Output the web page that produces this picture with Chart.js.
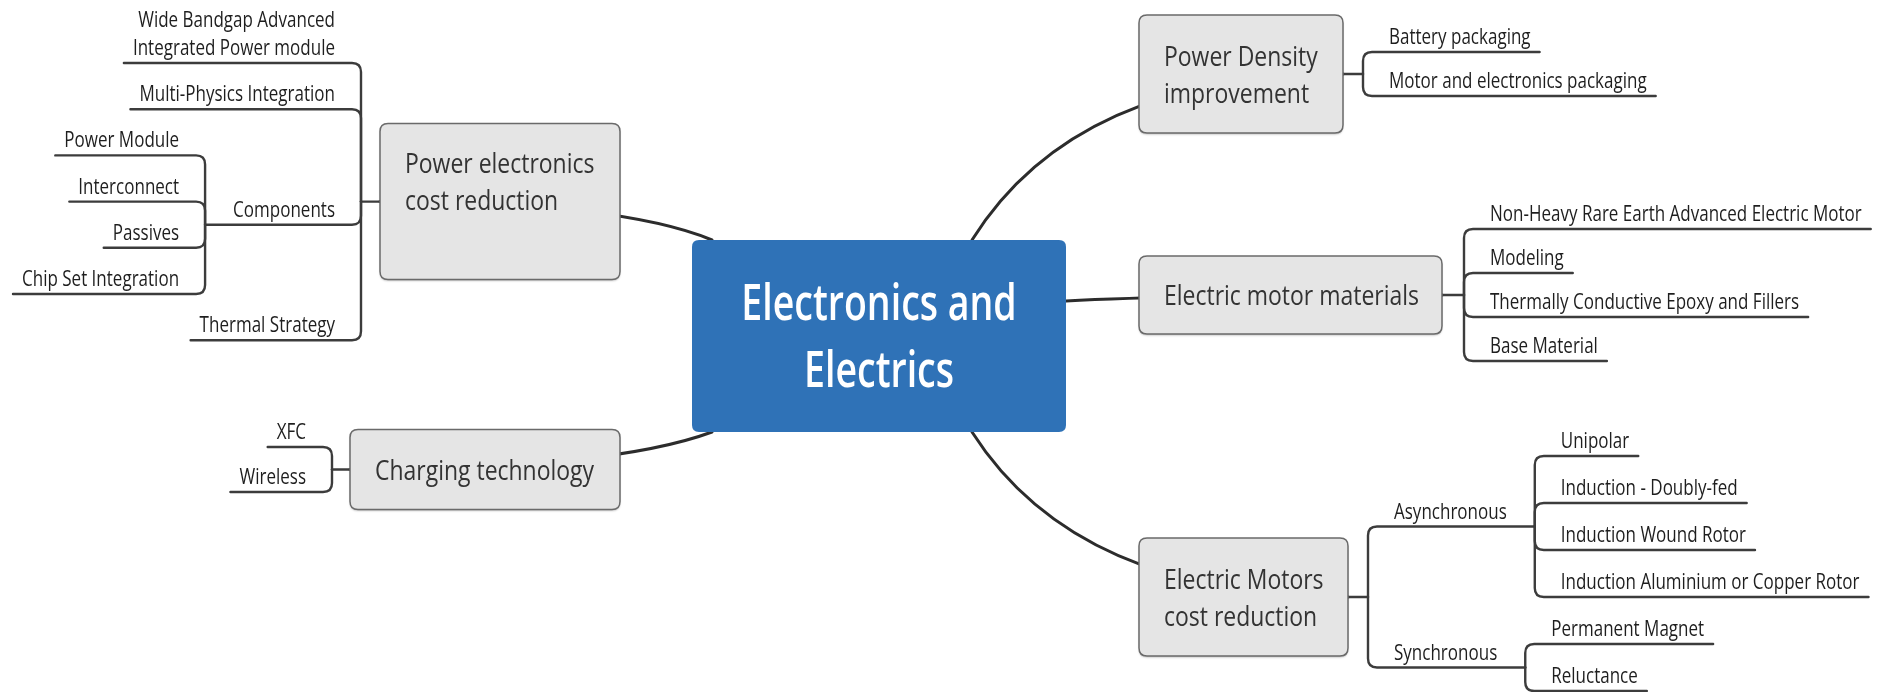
<!DOCTYPE html>
<html>
<head>
<meta charset="utf-8">
<script src="https://cdn.jsdelivr.net/npm/chart.js@4.4.1/dist/chart.umd.min.js"></script>
<style>
  html, body { margin: 0; padding: 0; background: #fff; }
  #wrap { width: 1877px; height: 692px; }
</style>
</head>
<body>
<div id="wrap"><canvas id="mindmap" width="1877" height="692"></canvas></div>
<script>
// texte des noeuds
const centralTitle = ['Electronics and', 'Electrics'];
const branchTitles = [
  ['Power electronics', 'cost reduction'],
  ['Charging technology'],
  ['Power Density', 'improvement'],
  ['Electric motor materials'],
  ['Electric Motors', 'cost reduction']
];
const powerElectronicsItems = [['Wide Bandgap Advanced', 'Integrated Power module'], 'Multi-Physics Integration', 'Components', 'Thermal Strategy'];
const componentsItems = ['Power Module', 'Interconnect', 'Passives', 'Chip Set Integration'];
const chargingItems = ['XFC', 'Wireless'];
const powerDensityItems = ['Battery packaging', 'Motor and electronics packaging'];
const motorMaterialsItems = ['Non-Heavy Rare Earth Advanced Electric Motor', 'Modeling', 'Thermally Conductive Epoxy and Fillers', 'Base Material'];
const motorsItems = ['Asynchronous', 'Synchronous'];
const asynchronousItems = ['Unipolar', 'Induction - Doubly-fed', 'Induction Wound Rotor', 'Induction Aluminium or Copper Rotor'];
const synchronousItems = ['Permanent Magnet', 'Reluctance'];

// mise en page (unités des axes)
const centralBox = { x: 692, y: 240, w: 374, h: 192 };
const branchLayout = [
  { side: 'left',  x: 380,  w: 240, h: 156, top: 63,  row: 46.2, gap: 19, entry: [712, 240],  textDy: -20 },
  { side: 'left',  x: 350,  w: 270, h: 80,  top: 447, row: 45,   gap: 18, entry: [712, 432],  textDy: 0 },
  { side: 'right', x: 1139, w: 204, h: 118, top: 52,  row: 44,   gap: 20, entry: [972, 240],  textDy: 0 },
  { side: 'right', x: 1139, w: 303, h: 78,  top: 229, row: 44,   gap: 22, entry: [1066, 301], textDy: 0 },
  { side: 'right', x: 1139, w: 209, h: 118, top: 456, row: 47,   gap: 20, entry: [972, 432],  textDy: 0 }
];

const FONT = '"Open Sans", "Noto Sans", sans-serif';
const leafFont = { weight: 400, size: 21, sx: 0.81, color: '#1e1e1e' };
const boxFont = { weight: 400, size: 28, sx: 0.82, color: '#333' };
const centerFont = { weight: 600, size: 50, sx: 0.75, color: '#fff' };

const leaf = l => ({ label: l, kids: [] });
const branchTrees = [
  [leaf(powerElectronicsItems[0]), leaf(powerElectronicsItems[1]),
   { label: powerElectronicsItems[2], kids: componentsItems.map(leaf) }, leaf(powerElectronicsItems[3])],
  chargingItems.map(leaf),
  powerDensityItems.map(leaf),
  motorMaterialsItems.map(leaf),
  [{ label: motorsItems[0], kids: asynchronousItems.map(leaf) },
   { label: motorsItems[1], kids: synchronousItems.map(leaf) }]
];

// positions verticales : feuilles en lignes, parent au milieu du premier et du dernier enfant
function placeRows(kids, state) {
  kids.forEach(k => {
    if (k.kids.length) {
      placeRows(k.kids, state);
      k.y = (k.kids[0].y + k.kids[k.kids.length - 1].y) / 2;
    } else {
      k.y = state.y;
      state.y += state.row;
    }
  });
}
branchTrees.forEach((kids, i) => {
  placeRows(kids, { y: branchLayout[i].top, row: branchLayout[i].row });
});
const anchorPoints = branchTrees.map((kids, i) => {
  const L = branchLayout[i];
  return { x: L.side === 'left' ? L.x : L.x + L.w, y: (kids[0].y + kids[kids.length - 1].y) / 2 };
});

function setFont(ctx, f) {
  ctx.font = f.weight + ' ' + f.size + 'px ' + FONT;
  ctx.fillStyle = f.color;
}
function textW(ctx, s, f) {
  setFont(ctx, f);
  return ctx.measureText(s).width * f.sx;
}
function drawText(ctx, s, x, y, align, f) {
  ctx.save();
  setFont(ctx, f);
  ctx.translate(x, y);
  ctx.scale(f.sx, 1);
  ctx.textAlign = align;
  ctx.textBaseline = 'alphabetic';
  ctx.fillText(s, 0, 0);
  ctx.restore();
}
function roundBox(ctx, x, y, w, h, r) {
  ctx.beginPath();
  ctx.moveTo(x + r, y);
  ctx.lineTo(x + w - r, y);
  ctx.quadraticCurveTo(x + w, y, x + w, y + r);
  ctx.lineTo(x + w, y + h - r);
  ctx.quadraticCurveTo(x + w, y + h, x + w - r, y + h);
  ctx.lineTo(x + r, y + h);
  ctx.quadraticCurveTo(x, y + h, x, y + h - r);
  ctx.lineTo(x, y + r);
  ctx.quadraticCurveTo(x, y, x + r, y);
  ctx.closePath();
}

const mindMapPlugin = {
  id: 'mindMap',
  afterDatasetsDraw(chart) {
    const ctx = chart.ctx;
    const px = v => chart.scales.x.getPixelForValue(v);
    const py = v => chart.scales.y.getPixelForValue(v);
    ctx.save();
    ctx.lineCap = 'round';
    ctx.lineJoin = 'round';

    // sous-branches
    function drawKids(trunkX, anchorY, kids, side) {
      const dir = side === 'right' ? 1 : -1;
      const r = 9;
      kids.forEach(k => {
        const y = py(k.y);
        const lines = Array.isArray(k.label) ? k.label : [k.label];
        const w = Math.max(...lines.map(s => textW(ctx, s, leafFont)));
        const textX = trunkX + dir * 26;
        const end = textX + dir * (w + (k.kids.length ? 28 : 9));
        ctx.strokeStyle = '#3c3c3c';
        ctx.lineWidth = 2.4;
        ctx.beginPath();
        ctx.moveTo(end, y);
        if (Math.abs(anchorY - y) > r) {
          const sg = anchorY > y ? 1 : -1;
          ctx.lineTo(trunkX + dir * r, y);
          ctx.quadraticCurveTo(trunkX, y, trunkX, y + sg * r);
          ctx.lineTo(trunkX, anchorY);
        } else {
          ctx.lineTo(trunkX, y);
        }
        ctx.stroke();
        lines.forEach((s, j) => {
          const by = y - 8 - (lines.length - 1 - j) * 28;
          drawText(ctx, s, textX, by, side === 'right' ? 'left' : 'right', leafFont);
        });
        if (k.kids.length) drawKids(end, y, k.kids, side);
      });
    }

    // liaisons vers le centre
    branchTrees.forEach((kids, i) => {
      const L = branchLayout[i];
      const a = anchorPoints[i];
      const sx = px(a.x), sy = py(a.y);
      const ex = px(L.entry[0]), ey = py(L.entry[1]);
      ctx.strokeStyle = '#2c2c2c';
      ctx.lineWidth = 3;
      ctx.beginPath();
      ctx.moveTo(ex, ey);
      ctx.quadraticCurveTo(ex + 0.28 * (sx - ex), sy, sx, sy);
      ctx.stroke();
    });

    // noeud central
    const cx = px(centralBox.x), cy = py(centralBox.y);
    const cw = px(centralBox.x + centralBox.w) - cx, ch = py(centralBox.y + centralBox.h) - cy;
    roundBox(ctx, cx, cy, cw, ch, 7);
    ctx.fillStyle = '#2f72b7';
    ctx.fill();
    drawText(ctx, centralTitle[0], cx + cw / 2, cy + ch / 2 - 16, 'center', centerFont);
    drawText(ctx, centralTitle[1], cx + cw / 2, cy + ch / 2 + 51, 'center', centerFont);

    // branches principales
    branchTrees.forEach((kids, i) => {
      const L = branchLayout[i];
      const a = anchorPoints[i];
      const ay = py(a.y);
      const bx = px(L.x), bw = px(L.x + L.w) - bx;
      const by = ay - L.h / 2;
      const trunkX = L.side === 'left' ? bx - L.gap : bx + bw + L.gap;

      ctx.strokeStyle = '#3c3c3c';
      ctx.lineWidth = 2.4;
      ctx.beginPath();
      ctx.moveTo(L.side === 'left' ? bx : bx + bw, ay);
      ctx.lineTo(trunkX, ay);
      ctx.stroke();

      ctx.save();
      ctx.shadowColor = 'rgba(0,0,0,0.25)';
      ctx.shadowBlur = 2;
      ctx.shadowOffsetY = 1.5;
      roundBox(ctx, bx, by, bw, L.h, 8);
      ctx.fillStyle = '#e5e5e5';
      ctx.fill();
      ctx.restore();
      roundBox(ctx, bx, by, bw, L.h, 8);
      ctx.strokeStyle = '#6a6a6a';
      ctx.lineWidth = 1.5;
      ctx.stroke();

      const title = branchTitles[i];
      const lh = 37;
      const first = ay + L.textDy + 10 - (title.length - 1) * lh / 2;
      title.forEach((s, j) => drawText(ctx, s, bx + 25, first + j * lh, 'left', boxFont));

      drawKids(trunkX, ay, kids, L.side);
    });
    ctx.restore();
  }
};

new Chart(document.getElementById('mindmap'), {
  type: 'scatter',
  data: { datasets: [{ data: anchorPoints, pointRadius: 0, showLine: false }] },
  options: {
    responsive: false,
    animation: false,
    layout: { padding: 0 },
    plugins: { legend: { display: false }, tooltip: { enabled: false } },
    scales: {
      x: { type: 'linear', min: 0, max: 1877, display: false },
      y: { type: 'linear', min: 0, max: 692, reverse: true, display: false }
    }
  },
  plugins: [mindMapPlugin]
});
</script>
</body>
</html>
